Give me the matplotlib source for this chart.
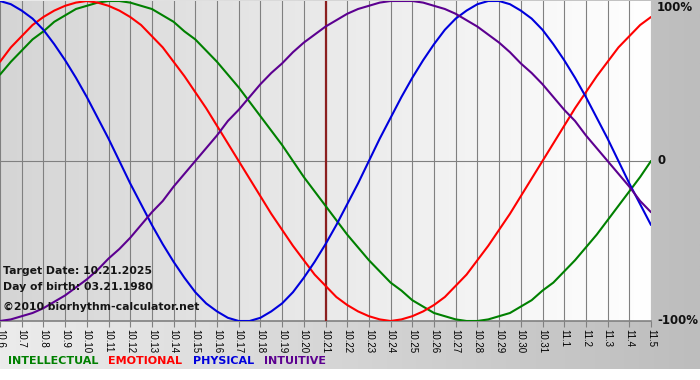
import numpy as np
import matplotlib
matplotlib.use("Agg")
import matplotlib.pyplot as plt
from matplotlib.colors import LinearSegmentedColormap

# dates on the x axis (Oct 6 .. Nov 5)
dates = ['10.6', '10.7', '10.8', '10.9', '10.10', '10.11', '10.12', '10.13', '10.14',
         '10.15', '10.16', '10.17', '10.18', '10.19', '10.20', '10.21', '10.22', '10.23',
         '10.24', '10.25', '10.26', '10.27', '10.28', '10.29', '10.30', '10.31',
         '11.1', '11.2', '11.3', '11.4', '11.5']
target_idx = 15  # 10.21

# curve values every half day (-1 .. 1), 61 points each
intellectual = [0.54, 0.62, 0.69, 0.76, 0.81, 0.87, 0.91, 0.95, 0.97, 0.99, 1.00,
                1.00, 0.99, 0.97, 0.95, 0.91, 0.87, 0.81, 0.76, 0.69, 0.62,
                0.54, 0.46, 0.37, 0.28, 0.19, 0.10, 0.00, -0.10, -0.19, -0.28,
                -0.37, -0.46, -0.54, -0.62, -0.69, -0.76, -0.81, -0.87, -0.91, -0.95,
                -0.97, -0.99, -1.00, -1.00, -0.99, -0.97, -0.95, -0.91, -0.87, -0.81,
                -0.76, -0.69, -0.62, -0.54, -0.46, -0.37, -0.28, -0.19, -0.10, 0.00]
emotional = [0.62, 0.71, 0.78, 0.85, 0.90, 0.94, 0.97, 0.99, 1.00, 0.99, 0.97,
             0.94, 0.90, 0.85, 0.78, 0.71, 0.62, 0.53, 0.43, 0.33, 0.22,
             0.11, 0.00, -0.11, -0.22, -0.33, -0.43, -0.53, -0.62, -0.71, -0.78,
             -0.85, -0.90, -0.94, -0.97, -0.99, -1.00, -0.99, -0.97, -0.94, -0.90,
             -0.85, -0.78, -0.71, -0.62, -0.53, -0.43, -0.33, -0.22, -0.11, 0.00,
             0.11, 0.22, 0.33, 0.43, 0.53, 0.62, 0.71, 0.78, 0.85, 0.90]
physical = [1.00, 0.98, 0.94, 0.89, 0.82, 0.73, 0.63, 0.52, 0.40, 0.27, 0.14,
            0.00, -0.14, -0.27, -0.40, -0.52, -0.63, -0.73, -0.82, -0.89, -0.94,
            -0.98, -1.00, -1.00, -0.98, -0.94, -0.89, -0.82, -0.73, -0.63, -0.52,
            -0.40, -0.27, -0.14, 0.00, 0.14, 0.27, 0.40, 0.52, 0.63, 0.73,
            0.82, 0.89, 0.94, 0.98, 1.00, 1.00, 0.98, 0.94, 0.89, 0.82,
            0.73, 0.63, 0.52, 0.40, 0.27, 0.14, 0.00, -0.14, -0.27, -0.40]
intuitive = [-1.00, -0.99, -0.97, -0.95, -0.92, -0.88, -0.84, -0.79, -0.74, -0.68, -0.61,
             -0.55, -0.48, -0.40, -0.32, -0.25, -0.16, -0.08, 0.00, 0.08, 0.16,
             0.25, 0.32, 0.40, 0.48, 0.55, 0.61, 0.68, 0.74, 0.79, 0.84,
             0.88, 0.92, 0.95, 0.97, 0.99, 1.00, 1.00, 1.00, 0.99, 0.97,
             0.95, 0.92, 0.88, 0.84, 0.79, 0.74, 0.68, 0.61, 0.55, 0.48,
             0.40, 0.32, 0.25, 0.16, 0.08, 0.00, -0.08, -0.16, -0.25, -0.32]

series_names = ['INTELLECTUAL', 'EMOTIONAL', 'PHYSICAL', 'INTUITIVE']
series_colors = ['#008000', '#ff0000', '#0000dd', '#5c0090']

W, H = 700, 380
fig = plt.figure(figsize=(W / 100, H / 100), dpi=100)

# background of the whole image: grey gradient with a white strip at the bottom
bg = fig.add_axes([0, 0, 1, 1])
bg.set_xlim(0, W)
bg.set_ylim(H, 0)
bg.axis('off')
bg_cmap = LinearSegmentedColormap.from_list('bg', ['#ececec', '#bdbdbd'])
bg.imshow(np.linspace(0, 1, 256).reshape(1, -1), cmap=bg_cmap, aspect='auto',
          extent=(0, W, 369, 0))
bg.set_zorder(0)

# plot area
px_right, px_top, px_bottom = 651, 1, 321
ax = fig.add_axes([0, 1 - px_bottom / H, px_right / W, (px_bottom - px_top) / H])
ax.set_zorder(1)
n = len(dates)
x = np.arange(n)
xh = np.arange(len(physical)) / 2  # half-day positions
ax.set_xlim(0, n - 1)
ax.set_ylim(-1, 1)
plot_cmap = LinearSegmentedColormap.from_list('plot', ['#d5d5d5', '#ffffff'])
ax.imshow(np.linspace(0, 1, 256).reshape(1, -1), cmap=plot_cmap, aspect='auto',
          extent=(0, n - 1, -1, 1), zorder=0)

for xi in x:
    ax.axvline(xi, color='#808080', lw=0.8, zorder=1)
ax.axhline(0, color='#808080', lw=0.8, zorder=1)
ax.axhline(-1, color='#808080', lw=1.2, zorder=1, clip_on=False)
for s in ax.spines.values():
    s.set_visible(False)

ax.axvline(target_idx, color='#8b1f1f', lw=1.6, zorder=2)

for vals, col in zip([intellectual, emotional, physical, intuitive], series_colors):
    ax.plot(xh, vals, color=col, lw=1.5, zorder=3, solid_capstyle='round')

ax.set_xticks(x)
ax.set_xticklabels(dates, rotation=270, fontsize=7, color='black',
                   family='Liberation Sans')
ax.tick_params(axis='x', length=4, width=0.8, color='#808080', pad=1.5)
ax.set_yticks([])

# right-hand scale labels
for val, lab in [(1, '100%'), (0, '0'), (-1, '-100%')]:
    ax.text(1.0 + 6 / 651, val, lab, transform=ax.get_yaxis_transform(),
            fontsize=8.5, fontweight='bold', ha='left',
            va='top' if val == 1 else 'center', color='#111111', clip_on=False)

# overlay for texts above the plot
txt_ax = fig.add_axes([0, 0, 1, 1])
txt_ax.set_xlim(0, W)
txt_ax.set_ylim(H, 0)
txt_ax.axis('off')
txt_ax.set_zorder(2)

info = ['Target Date: 10.21.2025', 'Day of birth: 03.21.1980',
        '\u00a92010 biorhythm-calculator.net']
info_y = [271, 287, 307]
for t, yy in zip(info, info_y):
    txt_ax.text(3, yy, t, fontsize=7.8, fontweight='bold', color='#151515',
                ha='left', va='center')

# legend row
legend_x = [8, 108, 193, 264]
for name, col, lx in zip(series_names, series_colors, legend_x):
    txt_ax.text(lx, 361, name, fontsize=8, fontweight='bold', color=col,
                ha='left', va='center')

fig.savefig('out.png', dpi=100)
